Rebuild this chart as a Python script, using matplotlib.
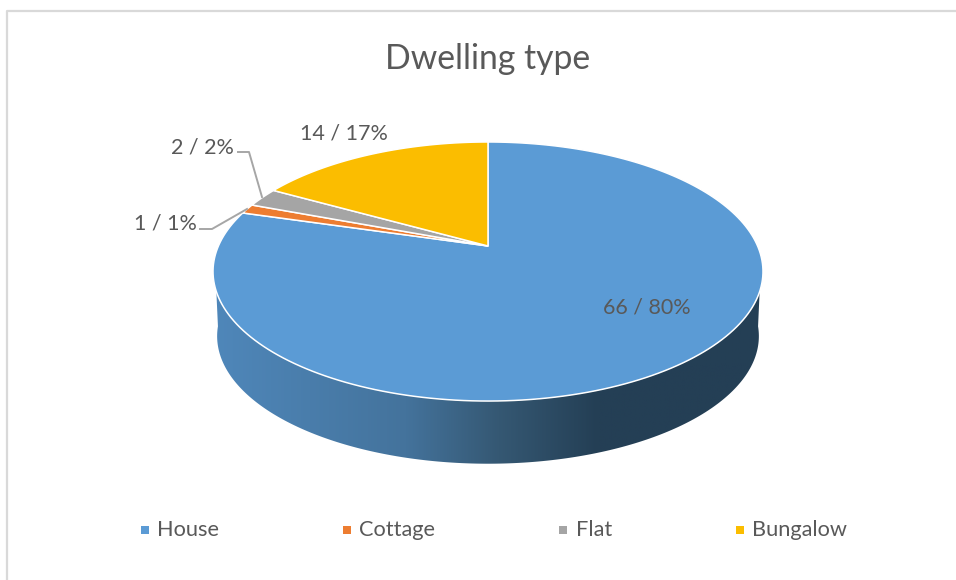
# Dwelling type - 3D looking pie, drawn in pixel coordinates
import numpy as np
import matplotlib.pyplot as plt
from matplotlib.colors import LinearSegmentedColormap
from matplotlib.patches import Polygon

plt.rcParams['font.family'] = ['Lato', 'DejaVu Sans']

title = 'Dwelling type'
categories = ['House', 'Cottage', 'Flat', 'Bungalow']
counts = [66, 1, 2, 14]
colors = ['#5B9BD5', '#ED7D31', '#A5A5A5', '#FBBD00']

# where the labels sit, same order as categories
label_pos = [(647, 308), (165, 224), (202, 147), (344, 134)]
legend_x = [145, 347, 563.5, 740]
legend_y = 529.5

text_color = '#595959'
line_color = '#A6A6A6'

# perspective of the pie
cx, cy = 488, 246
a, b, k = 269.6, 124.5, 0.197


def project(theta, scale=1.0, dy=0.0):
    # theta clockwise from 12 o'clock, degrees
    r = np.radians(theta)
    u, v = np.sin(r), np.cos(r)
    s = 1 / (1 + k * v)
    return cx + scale * a * u * s, cy + dy - scale * b * v * s


fig = plt.figure(figsize=(9.56, 5.8), dpi=100)
ax = fig.add_axes([0, 0, 1, 1])
ax.set_xlim(0, 956)
ax.set_ylim(580, 0)
ax.axis('off')

# frame of the chart, only top and left are in the picture
ax.plot([7, 7, 956], [580, 11, 11], color='#D9D9D9', lw=1.6)

# side of the pie, gradient clipped to the front band
tx, ty = project(np.linspace(110, 250, 200))
bx, by = project(np.linspace(97, 263, 200), scale=0.985, dy=65)
side = Polygon(np.r_[np.c_[tx, ty], np.c_[bx, by][::-1]], closed=True,
               transform=ax.transData, fc='none', ec='none')
ax.add_patch(side)
cmap = LinearSegmentedColormap.from_list('side', [
    (0.0, '#4F87BA'), (0.35, '#44739C'), (0.52, '#355873'),
    (0.70, '#243F55'), (1.0, '#243F55')])
grad = np.linspace(0, 1, 256).reshape(1, -1)
im = ax.imshow(grad, cmap=cmap, extent=[213, 763, 480, 250], aspect='auto', zorder=2)
im.set_clip_path(side)
ax.set_xlim(0, 956)
ax.set_ylim(580, 0)

# top of the pie
start = 0
for value, color in zip(counts, colors):
    end = start + value / sum(counts) * 360
    x, y = project(np.linspace(start, end, 200))
    pts = np.r_[[[cx, cy]], np.c_[x, y]]
    ax.add_patch(Polygon(pts, closed=True, fc=color, ec='white', lw=1.1, zorder=3))
    start = end

# data labels
total = sum(counts)
for value, (lx, ly) in zip(counts, label_pos):
    ax.text(lx, ly, f'{value} / {round(value / total * 100)}%', color=text_color,
            fontsize=15.5, ha='center', va='center', zorder=5)

# leader lines for the small slices
ax.plot([238, 249, 262], [152, 152, 197], color=line_color, lw=1.4, zorder=4)
ax.plot([200, 212, 247], [229, 229, 209], color=line_color, lw=1.4, zorder=4)

ax.text(488, 59, title, color=text_color, fontsize=24.3, ha='center', va='center')

# legend
for name, color, lx in zip(categories, colors, legend_x):
    ax.plot([lx], [legend_y], marker='s', ms=6, color=color, mew=0)
    ax.text(lx + 12.5, legend_y + 1, name, color=text_color, fontsize=15.7, ha='left', va='center')

fig.savefig('out.png', dpi=100)
